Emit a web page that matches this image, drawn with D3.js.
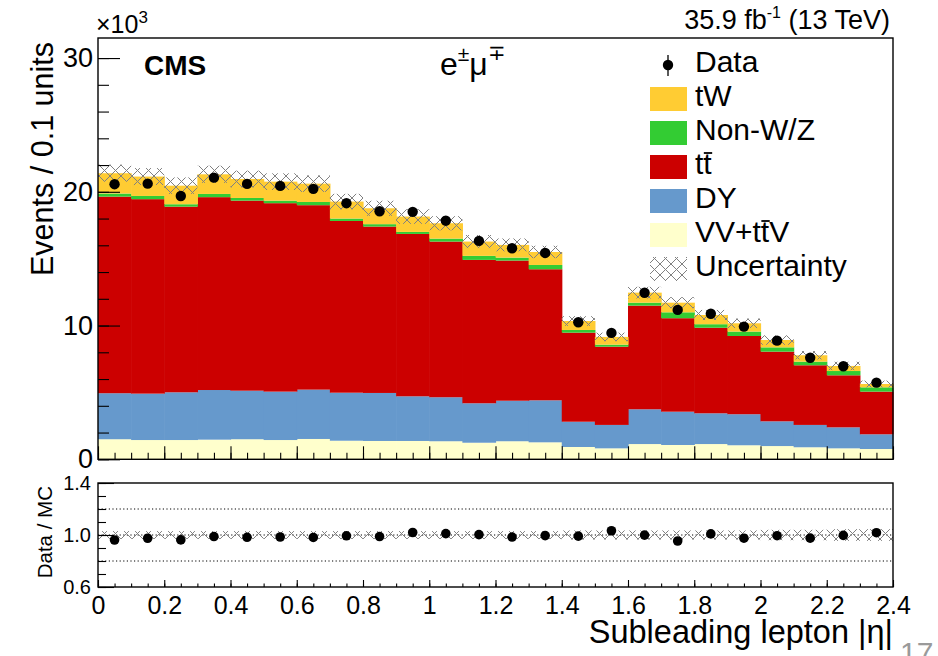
<!DOCTYPE html>
<html>
<head>
<meta charset="utf-8">
<script src="https://cdn.jsdelivr.net/npm/d3@7"></script>
<style>
  body { margin: 0; background: #fff; }
  svg { display: block; }
  text { font-family: "Liberation Sans", Arial, Helvetica, sans-serif; }
</style>
</head>
<body>
<svg id="chart" width="938" height="656"></svg>
<script>
// Bin edges of the subleading lepton |eta| histogram
const binEdges = [0, 0.1, 0.2, 0.3, 0.4, 0.5, 0.6, 0.7, 0.8, 0.9, 1.0, 1.1, 1.2,
                  1.3, 1.4, 1.5, 1.6, 1.7, 1.8, 1.9, 2.0, 2.1, 2.2, 2.3, 2.4];

// Expected events per bin, one array per process (stacked bottom to top)
const vvTtv = [1500, 1440, 1440, 1470, 1500, 1440, 1520, 1390, 1370, 1370, 1350, 1240,
               1350, 1270, 920, 820, 1140, 1070, 1140, 1050, 990, 900, 820, 770];
const dy    = [3440, 3470, 3570, 3710, 3630, 3620, 3690, 3590, 3590, 3340, 3290, 2950,
               3030, 3140, 1890, 1750, 2600, 2490, 2300, 2320, 1850, 1670, 1570, 1100];
const ttbar = [14700, 14540, 13880, 14420, 14210, 14090, 13790, 12840, 12440, 12140, 11640, 10720,
               10480, 9800, 6660, 5850, 7750, 6990, 6400, 5850, 5210, 4460, 3890, 3190];
const nonWZ = [230, 240, 180, 240, 200, 190, 240, 180, 180, 150, 220, 300,
               220, 320, 200, 150, 220, 440, 260, 330, 320, 270, 320, 320];
const tW    = [1520, 1450, 1390, 1470, 1420, 1420, 1370, 1270, 1190, 1150, 1150, 1070,
               950, 970, 670, 580, 750, 720, 690, 620, 550, 480, 380, 250];

// Observed events per bin
const data  = [20570, 20610, 19690, 21060, 20590, 20440, 20220, 19150, 18550, 18500, 17840, 16330,
               15780, 15430, 10250, 9450, 12450, 11170, 10880, 9920, 8870, 7590, 6960, 5730];

// Relative systematic uncertainty of the total prediction
const relUnc = [0.03, 0.03, 0.03, 0.03, 0.03, 0.03, 0.03, 0.03, 0.03, 0.03, 0.03, 0.03,
                0.03, 0.03, 0.035, 0.035, 0.035, 0.035, 0.035, 0.035, 0.04, 0.04, 0.045, 0.045];

// Axis ticks
const xTicks = [0, 0.2, 0.4, 0.6, 0.8, 1, 1.2, 1.4, 1.6, 1.8, 2, 2.2, 2.4];
const yTicks = [0, 10000, 20000, 30000];
const ratioTicks = [0.6, 1.0, 1.4];
const ratioGuides = [0.8, 1.0, 1.2];

// Legend
const legendLabels = ["Data", "tW", "Non-W/Z", "tt\u0304", "DY", "VV+tt\u0304V", "Uncertainty"];
const legendKeys   = ["data", "tw", "nw", "tt", "dy", "vv", "unc"];

const colors = { vv: "#ffffcc", dy: "#6699cc", tt: "#cc0000", nw: "#33cc33", tw: "#ffcc33" };

// ---- layout ----
const X0 = 98, X1 = 893;
const MY0 = 38, MY1 = 459.3;
const RY0 = 483, RY1 = 587;

const svg = d3.select("#chart");
const x  = d3.scaleLinear([0, 2.4], [X0, X1]);
const y  = d3.scaleLinear([0, 31500], [MY1, MY0]);
const yr = d3.scaleLinear([0.6, 1.4], [RY1, RY0]);

const nBins = binEdges.length - 1;
const rows = d3.range(nBins).map(i => ({
  lo: binEdges[i], hi: binEdges[i + 1],
  vv: vvTtv[i], dy: dy[i], tt: ttbar[i], nw: nonWZ[i], tw: tW[i],
  data: data[i], unc: relUnc[i]
}));
const keys = ["vv", "dy", "tt", "nw", "tw"];
const series = d3.stack().keys(keys)(rows);
rows.forEach(r => { r.total = keys.reduce((s, k) => s + r[k], 0); });

// hatch pattern for the uncertainty band
const defs = svg.append("defs");
defs.append("pattern").attr("id", "hatch")
  .attr("patternUnits", "userSpaceOnUse").attr("width", 11).attr("height", 11)
  .append("path").attr("d", "M0,0L11,11M11,0L0,11")
  .attr("stroke", "#808080").attr("stroke-width", 1).attr("fill", "none");

// ---- main panel: stacked histogram ----
const gMain = svg.append("g");
series.forEach(s => {
  gMain.append("g").selectAll("rect").data(s).join("rect")
    .attr("x", d => x(d.data.lo))
    .attr("width", d => x(d.data.hi) - x(d.data.lo) + 0.6)
    .attr("y", d => y(d[1]))
    .attr("height", d => y(d[0]) - y(d[1]))
    .attr("fill", colors[s.key]);
});

// uncertainty band
gMain.append("g").selectAll("rect").data(rows).join("rect")
  .attr("x", d => x(d.lo))
  .attr("width", d => x(d.hi) - x(d.lo))
  .attr("y", d => y(d.total * (1 + d.unc)))
  .attr("height", d => y(d.total * (1 - d.unc)) - y(d.total * (1 + d.unc)))
  .attr("fill", "url(#hatch)");

// data points with statistical errors
const gData = gMain.append("g");
gData.selectAll("line").data(rows).join("line")
  .attr("x1", d => x((d.lo + d.hi) / 2)).attr("x2", d => x((d.lo + d.hi) / 2))
  .attr("y1", d => y(d.data + Math.sqrt(d.data))).attr("y2", d => y(d.data - Math.sqrt(d.data)))
  .attr("stroke", "#000").attr("stroke-width", 1.2);
gData.selectAll("circle").data(rows).join("circle")
  .attr("cx", d => x((d.lo + d.hi) / 2)).attr("cy", d => y(d.data))
  .attr("r", 5.2).attr("fill", "#000");

// ---- main axes ----
const xMinor = d3.range(0, 2.4001, 0.05);
const yMinor = d3.range(0, 31001, 2000);
const noDomain = g => g.select(".domain").remove();

svg.append("g").attr("transform", `translate(0,${MY1})`)
  .call(d3.axisBottom(x).tickValues(xMinor).tickSize(-6.5).tickFormat("")).call(noDomain);
svg.append("g").attr("transform", `translate(0,${MY1})`)
  .call(d3.axisBottom(x).tickValues(xTicks).tickSize(-13).tickFormat("")).call(noDomain);
svg.append("g").attr("transform", `translate(${X0},0)`)
  .call(d3.axisLeft(y).tickValues(yMinor).tickSize(-11).tickFormat("")).call(noDomain);
svg.append("g").attr("transform", `translate(${X0},0)`)
  .call(d3.axisLeft(y).tickValues(yTicks).tickSize(-22).tickFormat("")).call(noDomain);
// y tick labels
svg.append("g").attr("transform", `translate(${X0},0)`)
  .call(d3.axisLeft(y).tickValues(yTicks).tickSize(0).tickPadding(5).tickFormat(d => d / 1000))
  .call(noDomain)
  .call(g => g.selectAll("text").attr("font-size", 27).attr("font-family", null).attr("fill", "#000"));

svg.selectAll(".tick line").attr("stroke", "#000").attr("stroke-width", 1.1);

svg.append("rect").attr("x", X0).attr("y", MY0).attr("width", X1 - X0).attr("height", MY1 - MY0)
  .attr("fill", "none").attr("stroke", "#000").attr("stroke-width", 1.4);

// ---- ratio panel ----
const gR = svg.append("g");
gR.selectAll("line.guide").data(ratioGuides).join("line").attr("class", "guide")
  .attr("x1", X0).attr("x2", X1).attr("y1", d => yr(d)).attr("y2", d => yr(d))
  .attr("stroke", "#000").attr("stroke-width", 1).attr("stroke-dasharray", "1.2,2.4");
gR.append("g").selectAll("rect").data(rows).join("rect")
  .attr("x", d => x(d.lo)).attr("width", d => x(d.hi) - x(d.lo))
  .attr("y", d => yr(1 + d.unc)).attr("height", d => yr(1 - d.unc) - yr(1 + d.unc))
  .attr("fill", "url(#hatch)");
gR.append("g").selectAll("circle").data(rows).join("circle")
  .attr("cx", d => x((d.lo + d.hi) / 2)).attr("cy", d => yr(d.data / d.total))
  .attr("r", 4.8).attr("fill", "#000");

const rMinorY = d3.range(0.6, 1.4001, 0.1);
const rx = svg.append("g");
rx.append("g").attr("transform", `translate(0,${RY1})`)
  .call(d3.axisBottom(x).tickValues(xMinor).tickSize(-3.5).tickFormat("")).call(noDomain);
rx.append("g").attr("transform", `translate(0,${RY1})`)
  .call(d3.axisBottom(x).tickValues(xTicks).tickSize(-7).tickFormat("")).call(noDomain);
rx.append("g").attr("transform", `translate(${X0},0)`)
  .call(d3.axisLeft(yr).tickValues(rMinorY).tickSize(-8).tickFormat("")).call(noDomain);
rx.append("g").attr("transform", `translate(${X0},0)`)
  .call(d3.axisLeft(yr).tickValues(ratioTicks).tickSize(-16).tickFormat("")).call(noDomain);
rx.selectAll(".tick line").attr("stroke", "#000").attr("stroke-width", 1.1);

rx.append("g").attr("transform", `translate(0,${RY1})`)
  .call(d3.axisBottom(x).tickValues(xTicks).tickSize(0).tickPadding(9).tickFormat(d3.format("~g")))
  .call(noDomain)
  .call(g => g.selectAll("text").attr("font-size", 25).attr("font-family", null).attr("fill", "#000"));
rx.append("g").attr("transform", `translate(${X0},0)`)
  .call(d3.axisLeft(yr).tickValues(ratioTicks).tickSize(0).tickPadding(7).tickFormat(d3.format(".1f")))
  .call(noDomain)
  .call(g => g.selectAll("text").attr("font-size", 20).attr("font-family", null).attr("fill", "#000"));

svg.append("rect").attr("x", X0).attr("y", RY0).attr("width", X1 - X0).attr("height", RY1 - RY0)
  .attr("fill", "none").attr("stroke", "#000").attr("stroke-width", 1.4);

// ---- titles and labels ----
svg.append("text").attr("transform", "translate(53,42) rotate(-90)")
  .attr("text-anchor", "end").attr("font-size", 30.5).text("Events / 0.1 units");
svg.append("text").attr("transform", "translate(52,486) rotate(-90)")
  .attr("text-anchor", "end").attr("font-size", 20.5).text("Data / MC");
svg.append("text").attr("x", 893).attr("y", 643).attr("text-anchor", "end")
  .attr("font-size", 32.5).text("Subleading lepton |η|");

const mult = svg.append("text").attr("x", 96).attr("y", 33).attr("font-size", 25);
mult.append("tspan").text("×10");
mult.append("tspan").attr("font-size", 17).attr("dy", -10).text("3");

svg.append("text").attr("x", 144).attr("y", 75).attr("font-size", 28)
  .attr("font-weight", "bold").text("CMS");

const lumi = svg.append("text").attr("x", 890).attr("y", 28.5).attr("text-anchor", "end").attr("font-size", 27);
lumi.append("tspan").text("35.9 fb");
lumi.append("tspan").attr("font-size", 16).attr("dy", -11).text("-1");
lumi.append("tspan").attr("dy", 11).text(" (13 TeV)");

const chan = svg.append("text").attr("x", 440).attr("y", 75).attr("font-size", 32);
chan.append("tspan").text("e");
chan.append("tspan").attr("font-size", 21).attr("dy", -14).text("±");
chan.append("tspan").attr("dy", 14).text("μ");
chan.append("tspan").attr("font-size", 21).attr("dy", -15).text("∓");

svg.append("text").attr("x", 900).attr("y", 663).attr("font-size", 30)
  .attr("fill", "#9a9a9a").text("17");

// ---- legend ----
const gL = svg.append("g");
legendLabels.forEach((label, i) => {
  const base = 72 + 34 * i;
  const key = legendKeys[i];
  if (key === "data") {
    gL.append("line").attr("x1", 668).attr("x2", 668).attr("y1", base - 17).attr("y2", base + 4)
      .attr("stroke", "#000").attr("stroke-width", 1.3);
    gL.append("circle").attr("cx", 668).attr("cy", base - 7).attr("r", 5.2).attr("fill", "#000");
  } else if (key === "unc") {
    gL.append("rect").attr("x", 650).attr("y", base - 19).attr("width", 37).attr("height", 24)
      .attr("fill", "url(#hatch)");
  } else {
    gL.append("rect").attr("x", 650).attr("y", base - 19).attr("width", 37).attr("height", 24)
      .attr("fill", colors[key]);
  }
  // a combining macron marks the preceding letter as an antiparticle bar
  const chars = Array.from(label);
  let clean = "";
  const barIdx = [];
  chars.forEach(c => {
    if (c === "\u0304") barIdx.push(clean.length - 1);
    else clean += c;
  });
  const t = gL.append("text").attr("x", 695).attr("y", base).attr("font-size", 30).text(clean);
  const node = t.node();
  barIdx.forEach(k => {
    const s = node.getStartPositionOfChar(k).x;
    const e = node.getEndPositionOfChar(k).x;
    gL.append("line").attr("x1", s + 0.5).attr("x2", e + 0.5)
      .attr("y1", base - 21).attr("y2", base - 21)
      .attr("stroke", "#000").attr("stroke-width", 1.8);
  });
});
</script>
</body>
</html>
